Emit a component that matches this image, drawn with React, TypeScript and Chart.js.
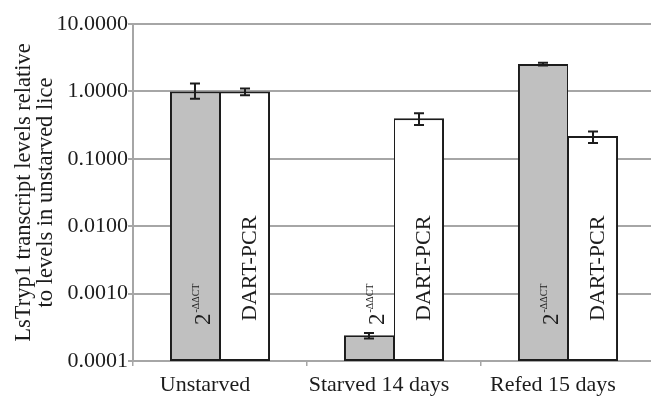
import React, { useEffect, useRef } from "react";
import { Chart, registerables } from "chart.js";

Chart.register(...registerables);

const categories = ["Unstarved", "Starved 14 days", "Refed 15 days"];
const ddctValues = [1.0, 0.00024, 2.55];
const ddctErrLow = [0.78, 0.000215, 2.43];
const ddctErrHigh = [1.31, 0.00026, 2.67];
const dartValues = [1.0, 0.4, 0.217];
const dartErrLow = [0.88, 0.316, 0.171];
const dartErrHigh = [1.1, 0.476, 0.255];
const yTicks = [0.0001, 0.001, 0.01, 0.1, 1, 10];
const yTitle = ["LsTryp1 transcript levels relative", "to levels in unstarved lice"];
const ddctLabelBase = "2";
const ddctLabelSup = "-\u0394\u0394CT";
const dartLabel = "DART-PCR";

const FONT = "'Liberation Serif', 'DejaVu Serif', serif";
const INK = "#1c1c1c";
const GRID = "#a6a6a6";

const errorBarPlugin = {
  id: "errorBars",
  afterDatasetsDraw(chart: any) {
    const { ctx } = chart;
    const yScale = chart.scales.y;
    const lows = [ddctErrLow, dartErrLow];
    const highs = [ddctErrHigh, dartErrHigh];
    ctx.save();
    ctx.strokeStyle = INK;
    ctx.lineWidth = 2;
    [0, 1].forEach((di) => {
      const meta = chart.getDatasetMeta(di);
      meta.data.forEach((bar: any, i: number) => {
        const x = bar.x;
        const yl = yScale.getPixelForValue(lows[di][i]);
        const yh = yScale.getPixelForValue(highs[di][i]);
        ctx.beginPath();
        ctx.moveTo(x, yl);
        ctx.lineTo(x, yh);
        ctx.moveTo(x - 5, yl);
        ctx.lineTo(x + 5, yl);
        ctx.moveTo(x - 5, yh);
        ctx.lineTo(x + 5, yh);
        ctx.stroke();
      });
    });
    ctx.restore();
  },
};

const barLabelPlugin = {
  id: "barLabels",
  afterDraw(chart: any) {
    const { ctx } = chart;
    const yScale = chart.scales.y;
    ctx.save();
    ctx.fillStyle = INK;
    ctx.textAlign = "left";
    ctx.textBaseline = "alphabetic";
    chart.getDatasetMeta(0).data.forEach((bar: any) => {
      ctx.save();
      ctx.translate(bar.x, yScale.bottom - 36);
      ctx.rotate(-Math.PI / 2);
      ctx.font = `23px ${FONT}`;
      ctx.fillText(ddctLabelBase, 0, 15);
      const w = ctx.measureText(ddctLabelBase).width;
      ctx.font = `10px ${FONT}`;
      ctx.fillText(ddctLabelSup, w + 1, 4);
      ctx.restore();
    });
    chart.getDatasetMeta(1).data.forEach((bar: any) => {
      ctx.save();
      ctx.translate(bar.x, yScale.bottom - 40);
      ctx.rotate(-Math.PI / 2);
      ctx.font = `22px ${FONT}`;
      ctx.fillText(dartLabel, 0, 10.5);
      ctx.restore();
    });
    ctx.restore();
  },
};

export default function App() {
  const ref = useRef<HTMLCanvasElement>(null);
  useEffect(() => {
    if (!ref.current) return;
    const chart = new Chart(ref.current, {
      type: "bar",
      data: {
        labels: categories,
        datasets: [
          {
            label: "2-ΔΔCT",
            data: ddctValues,
            backgroundColor: "#c0c0c0",
            borderColor: INK,
            borderWidth: { top: 2, left: 2, bottom: 2, right: 1 },
            borderSkipped: false,
          },
          {
            label: "DART-PCR",
            data: dartValues,
            backgroundColor: "#ffffff",
            borderColor: INK,
            borderWidth: { top: 2, left: 1, bottom: 2, right: 2 },
            borderSkipped: false,
          },
        ],
      },
      options: {
        animation: false,
        responsive: false,
        devicePixelRatio: 1,
        layout: { padding: { top: 24, left: 0, right: 0, bottom: 0 } },
        datasets: {
          bar: { categoryPercentage: 0.575, barPercentage: 1.0 },
        },
        plugins: {
          legend: { display: false },
          tooltip: { enabled: false },
        },
        scales: {
          x: {
            afterFit(scale: any) {
              scale.height = 35;
            },
            grid: {
              display: true,
              drawOnChartArea: false,
              drawTicks: true,
              tickLength: 5,
              color: GRID,
              lineWidth: 1.5,
            },
            border: { display: true, color: GRID, width: 2 },
            ticks: {
              color: INK,
              padding: 6,
              labelOffset: -15,
              font: { family: FONT, size: 22 },
              maxRotation: 0,
            },
          },
          y: {
            type: "logarithmic",
            min: 0.0001,
            max: 10,
            afterFit(scale: any) {
              scale.width = 133;
            },
            afterBuildTicks(scale: any) {
              scale.ticks = yTicks.map((v) => ({ value: v }));
            },
            grid: {
              color: GRID,
              lineWidth: 2,
              drawTicks: true,
              tickLength: 5,
            },
            border: { display: true, color: GRID, width: 2 },
            ticks: {
              color: INK,
              padding: 0,
              font: { family: FONT, size: 22 },
              callback: (v: any) => Number(v).toFixed(4),
            },
            title: {
              display: true,
              text: yTitle,
              color: INK,
              font: { family: FONT, size: 22.5, lineHeight: 0.978 },
              padding: { top: 13, bottom: 0 },
            },
          },
        },
      },
      plugins: [errorBarPlugin, barLabelPlugin],
    });
    return () => chart.destroy();
  }, []);
  return (
    <div
      style={{
        position: "absolute",
        left: 0,
        top: 0,
        width: 651,
        height: 396,
        overflow: "hidden",
        background: "#fff",
      }}
    >
      <canvas ref={ref} width={655} height={396} style={{ display: "block" }} />
    </div>
  );
}
